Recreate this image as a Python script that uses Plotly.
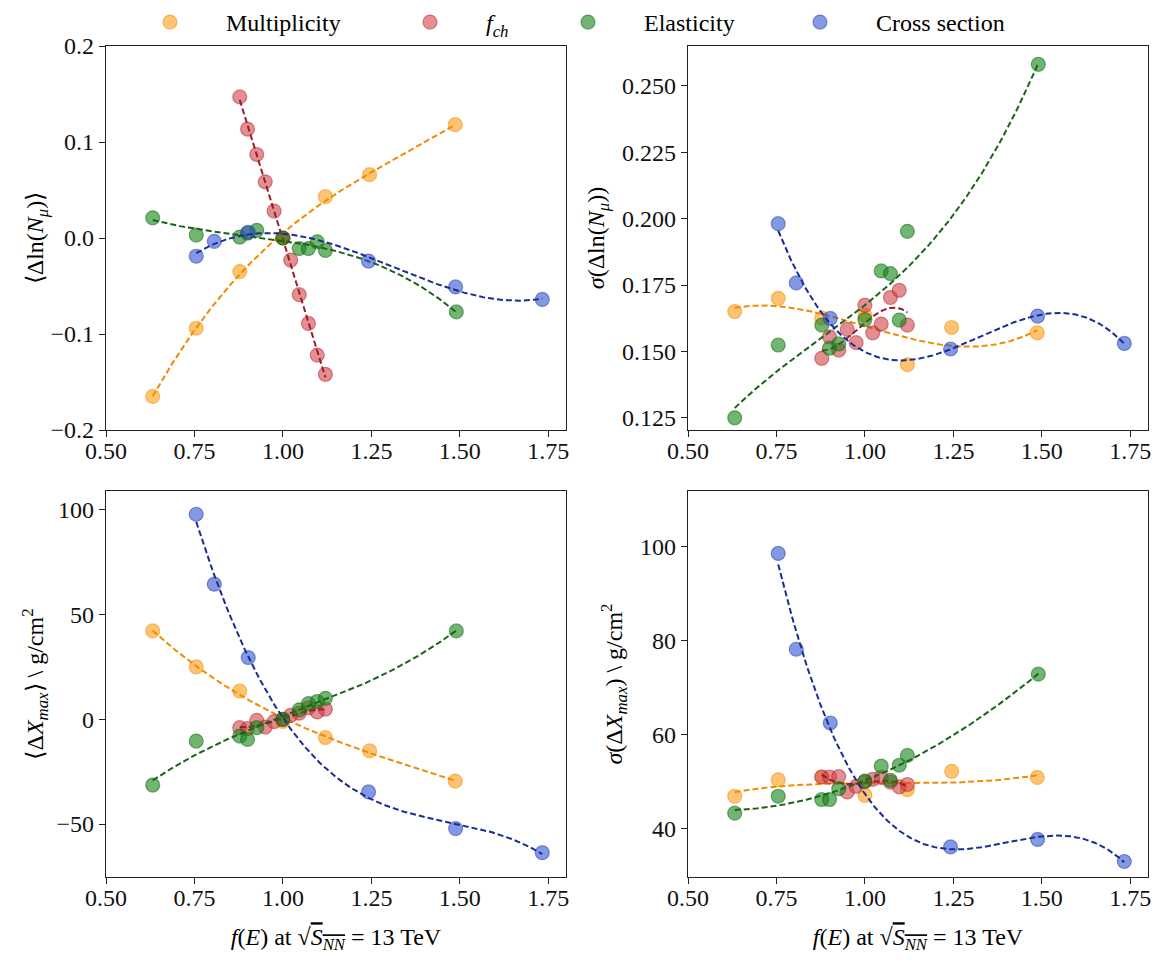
import numpy as np
import plotly.graph_objects as go

# ---------------- data ----------------
series_names = ["Multiplicity", "<i>f<sub>ch</sub></i>", "Elasticity", "Cross section"]

x_mult = [0.632, 0.755, 0.878, 1.0, 1.12, 1.245, 1.487]
x_fch = [0.878, 0.90, 0.926, 0.95, 0.975, 1.0, 1.022, 1.046, 1.072, 1.097, 1.12]
x_elas = [0.632, 0.755, 0.878, 0.90, 0.926, 1.0, 1.046, 1.072, 1.097, 1.12, 1.49]
x_cross = [0.755, 0.806, 0.902, 1.242, 1.488, 1.733]

# <Δ ln(Nμ)>
mean_lnN_mult = [-0.165, -0.094, -0.035, 0.0, 0.043, 0.066, 0.118]
mean_lnN_fch = [0.147, 0.1135, 0.087, 0.0585, 0.028, 0.0, -0.023, -0.059, -0.089, -0.122, -0.142]
mean_lnN_elas = [0.021, 0.003, 0.001, 0.005, 0.008, 0.0, -0.011, -0.011, -0.004, -0.013, -0.077]
mean_lnN_cross = [-0.019, -0.0035, 0.006, -0.024, -0.051, -0.064]

# σ(Δ ln(Nμ))
sigma_lnN_mult = [0.165, 0.170, 0.1625, 0.1637, 0.145, 0.159, 0.157]
sigma_lnN_fch = [0.1474, 0.1555, 0.1505, 0.1583, 0.1533, 0.1674, 0.157, 0.1603, 0.1703, 0.173, 0.1599]
sigma_lnN_elas = [0.125, 0.1524, 0.1599, 0.1512, 0.1528, 0.162, 0.1803, 0.1793, 0.1618, 0.1952, 0.2581]
sigma_lnN_cross = [0.1981, 0.1758, 0.1624, 0.1509, 0.1633, 0.153]

# <ΔXmax>
mean_Xmax_mult = [42.2, 25.0, 13.5, -1.0, -8.7, -15.1, -29.5]
mean_Xmax_fch = [-4.0, -4.4, -0.5, -3.7, -1.1, 0.0, 1.9, 2.9, 5.5, 3.5, 4.8]
mean_Xmax_elas = [-31.4, -10.4, -8.0, -9.6, -4.0, 0.0, 4.5, 7.5, 8.5, 10.0, 42.2]
mean_Xmax_cross = [97.9, 64.5, 29.5, -34.7, -52.2, -63.7]

# σ(ΔXmax)
sigma_Xmax_mult = [46.9, 50.4, 51.0, 47.1, 48.3, 52.2, 50.9]
sigma_Xmax_fch = [51.0, 51.0, 51.1, 47.8, 49.0, 50.0, 50.5, 50.9, 49.9, 48.9, 49.4]
sigma_Xmax_elas = [43.3, 46.9, 46.2, 46.2, 48.5, 50.1, 53.3, 50.3, 53.5, 55.6, 72.9]
sigma_Xmax_cross = [98.6, 78.2, 62.5, 36.1, 37.7, 33.0]

x_tick_vals = [0.50, 0.75, 1.00, 1.25, 1.50, 1.75]

# ---------------- styling ----------------
W, H = 1165, 960
T = 46  # top margin that holds the legend row
FONT = "Liberation Serif"
marker_colors = ["rgba(255,155,20,0.6)", "rgba(210,60,65,0.58)",
                 "rgba(20,130,20,0.6)", "rgba(50,85,210,0.6)"]
edge_colors = ["rgba(240,140,0,0.5)", "rgba(170,40,45,0.5)",
               "rgba(10,100,10,0.5)", "rgba(30,60,170,0.5)"]
line_colors = ["#f08c00", "#9a1b2a", "#1a641a", "#1c2c96"]

XTITLE = ("<i>f</i>(<i>E</i>) at √<span style='text-decoration:overline'>"
          "<i>S<sub>NN</sub></i></span> = 13 TeV")

xs_all = [x_mult, x_fch, x_elas, x_cross]
panels = [
    dict(ys=[mean_lnN_mult, mean_lnN_fch, mean_lnN_elas, mean_lnN_cross],
         px=(106, 566), py=(46, 430), yr=[-0.2, 0.2], dt=0.1, fmt=".1f",
         ytitle="⟨Δln(<i>N<sub>μ</sub></i>)⟩", ystand=0, xtitle=None),
    dict(ys=[sigma_lnN_mult, sigma_lnN_fch, sigma_lnN_elas, sigma_lnN_cross],
         px=(688, 1148), py=(46, 430), yr=[0.1204, 0.265], dt=0.025, fmt=".3f",
         ytitle="<i>σ</i>(Δln(<i>N<sub>μ</sub></i>))", ystand=10, xtitle=None),
    dict(ys=[mean_Xmax_mult, mean_Xmax_fch, mean_Xmax_elas, mean_Xmax_cross],
         px=(106, 566), py=(491, 877), yr=[-75.3, 109.0], dt=50, fmt="d",
         ytitle="⟨Δ<i>X<sub>max</sub></i>⟩ \\ g/cm<sup>2</sup>", ystand=6,
         xtitle=XTITLE),
    dict(ys=[sigma_Xmax_mult, sigma_Xmax_fch, sigma_Xmax_elas, sigma_Xmax_cross],
         px=(688, 1148), py=(491, 877), yr=[29.7, 111.9], dt=20, fmt="d",
         ytitle="<i>σ</i>(Δ<i>X<sub>max</sub></i>) \\ g/cm<sup>2</sup>", ystand=10,
         xtitle=XTITLE),
]

legend_ids = ["legend", "legend2", "legend3", "legend4"]
legend_marker_x = [170, 430, 588, 820]
PAD = "\u00a0" * 6

fig = go.Figure()
layout = dict(width=W, height=H, margin=dict(l=0, r=0, t=T, b=0),
              paper_bgcolor="white", plot_bgcolor="white",
              font=dict(family=FONT, size=24, color="black"),
              template="none")

for k, p in enumerate(panels):
    sfx = "" if k == 0 else str(k + 1)
    xa, ya = "x" + sfx, "y" + sfx
    for s in range(4):
        xs = np.array(xs_all[s], dtype=float)
        ys = np.array(p["ys"][s], dtype=float)
        fig.add_trace(go.Scatter(
            x=xs, y=ys, mode="markers", name=PAD + series_names[s],
            xaxis=xa, yaxis=ya,
            legend=legend_ids[s], showlegend=(k == 0),
            marker=dict(size=14, color=marker_colors[s],
                        line=dict(color=edge_colors[s], width=1.2)),
        ))
        coef = np.polyfit(xs, ys, 3)
        xf = np.linspace(xs.min(), xs.max(), 200)
        fig.add_trace(go.Scatter(
            x=xf, y=np.polyval(coef, xf), mode="lines",
            xaxis=xa, yaxis=ya, showlegend=False, hoverinfo="skip",
            line=dict(color=line_colors[s], width=2, dash="6px,3px"),
        ))
    axis_common = dict(showline=True, linecolor="#222", linewidth=1.3, mirror=True,
                       ticks="outside", ticklen=6, tickwidth=1.2, tickcolor="#222",
                       showgrid=False, zeroline=False, automargin=False,
                       tickfont=dict(family=FONT, size=24, color="#111"))
    layout["xaxis" + sfx] = dict(
        axis_common, domain=[p["px"][0] / W, p["px"][1] / W],
        range=[0.5, 1.8], tickvals=x_tick_vals, tickformat=".2f",
        anchor=ya, ticklabelstandoff=-7,
        title=dict(text=p["xtitle"] or "", font=dict(family=FONT, size=24), standoff=18),
    )
    ph = H - T
    layout["yaxis" + sfx] = dict(
        axis_common, domain=[(H - p["py"][1]) / ph, min(1.0, (H - p["py"][0]) / ph)],
        range=p["yr"], dtick=p["dt"], tick0=0, tickformat=p["fmt"],
        anchor=xa,
        title=dict(text=p["ytitle"], font=dict(family=FONT, size=24), standoff=p["ystand"]),
    )

for i, lid in enumerate(legend_ids):
    layout[lid] = dict(x=(legend_marker_x[i] - 20) / W, xanchor="left",
                       xref="container", yref="container",
                       y=1.0, yanchor="top", orientation="h",
                       bgcolor="rgba(0,0,0,0)", borderwidth=0,
                       font=dict(family=FONT, size=24, color="black"))

fig.update_layout(**layout)
fig.write_html("out.html", config={"displayModeBar": False},
               post_script="document.body.style.margin='0';document.body.style.overflow='hidden';")
